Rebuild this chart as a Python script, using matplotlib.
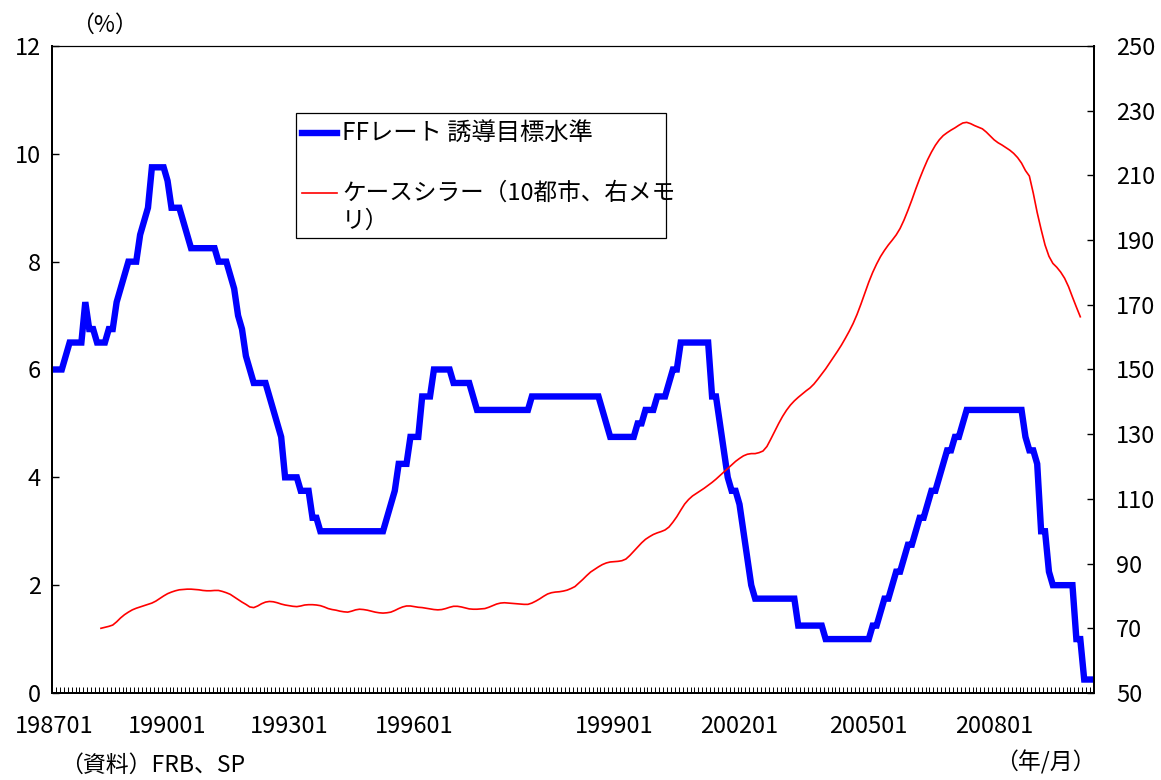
import numpy as np
import matplotlib
matplotlib.use("Agg")
import matplotlib.pyplot as plt
from matplotlib.lines import Line2D
from matplotlib.patches import Rectangle

plt.rcParams['font.family'] = ['Noto Sans CJK JP', 'DejaVu Sans']

# 月次の系列 198701〜200902
months = [f"{y}{m:02d}" for y in range(1987, 2010) for m in range(1, 13)][:266]

# FFレート 誘導目標水準（%、月末値）
ff_rate = [
    6.0, 6.0, 6.0, 6.25, 6.5, 6.5, 6.5, 6.5, 7.25, 6.75, 6.75, 6.5,          # 1987
    6.5, 6.5, 6.75, 6.75, 7.25, 7.5, 7.75, 8.0, 8.0, 8.0, 8.5, 8.75,        # 1988
    9.0, 9.75, 9.75, 9.75, 9.75, 9.5, 9.0, 9.0, 9.0, 8.75, 8.5, 8.25,       # 1989
    8.25, 8.25, 8.25, 8.25, 8.25, 8.25, 8.0, 8.0, 8.0, 7.75, 7.5, 7.0,      # 1990
    6.75, 6.25, 6.0, 5.75, 5.75, 5.75, 5.75, 5.5, 5.25, 5.0, 4.75, 4.0,     # 1991
    4.0, 4.0, 4.0, 3.75, 3.75, 3.75, 3.25, 3.25, 3.0, 3.0, 3.0, 3.0,        # 1992
    3.0, 3.0, 3.0, 3.0, 3.0, 3.0, 3.0, 3.0, 3.0, 3.0, 3.0, 3.0,             # 1993
    3.0, 3.25, 3.5, 3.75, 4.25, 4.25, 4.25, 4.75, 4.75, 4.75, 5.5, 5.5,     # 1994
    5.5, 6.0, 6.0, 6.0, 6.0, 6.0, 5.75, 5.75, 5.75, 5.75, 5.75, 5.5,        # 1995
    5.25, 5.25, 5.25, 5.25, 5.25, 5.25, 5.25, 5.25, 5.25, 5.25, 5.25, 5.25, # 1996
    5.25, 5.25, 5.5, 5.5, 5.5, 5.5, 5.5, 5.5, 5.5, 5.5, 5.5, 5.5,           # 1997
    5.5, 5.5, 5.5, 5.5, 5.5, 5.5, 5.5, 5.5, 5.25, 5.0, 4.75, 4.75,          # 1998
    4.75, 4.75, 4.75, 4.75, 4.75, 5.0, 5.0, 5.25, 5.25, 5.25, 5.5, 5.5,     # 1999
    5.5, 5.75, 6.0, 6.0, 6.5, 6.5, 6.5, 6.5, 6.5, 6.5, 6.5, 6.5,            # 2000
    5.5, 5.5, 5.0, 4.5, 4.0, 3.75, 3.75, 3.5, 3.0, 2.5, 2.0, 1.75,          # 2001
    1.75, 1.75, 1.75, 1.75, 1.75, 1.75, 1.75, 1.75, 1.75, 1.75, 1.25, 1.25, # 2002
    1.25, 1.25, 1.25, 1.25, 1.25, 1.0, 1.0, 1.0, 1.0, 1.0, 1.0, 1.0,        # 2003
    1.0, 1.0, 1.0, 1.0, 1.0, 1.25, 1.25, 1.5, 1.75, 1.75, 2.0, 2.25,        # 2004
    2.25, 2.5, 2.75, 2.75, 3.0, 3.25, 3.25, 3.5, 3.75, 3.75, 4.0, 4.25,     # 2005
    4.5, 4.5, 4.75, 4.75, 5.0, 5.25, 5.25, 5.25, 5.25, 5.25, 5.25, 5.25,    # 2006
    5.25, 5.25, 5.25, 5.25, 5.25, 5.25, 5.25, 5.25, 4.75, 4.5, 4.5, 4.25,   # 2007
    3.0, 3.0, 2.25, 2.0, 2.0, 2.0, 2.0, 2.0, 2.0, 1.0, 1.0, 0.25,           # 2008
    0.25, 0.25,                                                             # 2009
]

# ケースシラー住宅価格指数（10都市）198801〜200811
cs_start = "198801"
case_shiller = [
    70.0, 70.3, 70.6, 71.0, 72.0, 73.2, 74.2, 75.0, 75.7, 76.2, 76.6, 77.0,       # 1988
    77.4, 77.8, 78.4, 79.2, 80.0, 80.7, 81.2, 81.6, 81.9, 82.0, 82.1, 82.1,       # 1989
    82.0, 81.9, 81.7, 81.6, 81.6, 81.7, 81.7, 81.4, 81.0, 80.5, 79.7, 78.9,       # 1990
    78.1, 77.4, 76.6, 76.4, 76.9, 77.6, 78.1, 78.3, 78.2, 77.9, 77.5, 77.2,       # 1991
    77.0, 76.8, 76.7, 76.9, 77.2, 77.3, 77.3, 77.2, 77.0, 76.6, 76.1, 75.8,       # 1992
    75.6, 75.3, 75.1, 75.0, 75.3, 75.7, 75.9, 75.8, 75.6, 75.3, 75.0, 74.8,       # 1993
    74.7, 74.8, 75.0, 75.5, 76.1, 76.6, 76.9, 76.9, 76.7, 76.5, 76.4, 76.2,       # 1994
    76.0, 75.8, 75.7, 75.8, 76.1, 76.5, 76.8, 76.8, 76.6, 76.3, 76.0, 75.9,       # 1995
    75.9, 76.0, 76.1, 76.5, 77.0, 77.5, 77.8, 77.9, 77.8, 77.7, 77.6, 77.5,       # 1996
    77.4, 77.4, 77.8, 78.4, 79.1, 79.9, 80.6, 81.0, 81.2, 81.3, 81.5, 81.8,       # 1997
    82.3, 82.9, 84.0, 85.1, 86.3, 87.4, 88.2, 89.0, 89.7, 90.2, 90.5, 90.6,       # 1998
    90.7, 90.9, 91.4, 92.5, 93.8, 95.1, 96.4, 97.5, 98.3, 99.0, 99.5, 99.9,       # 1999
    100.4, 101.3, 102.8, 104.5, 106.5, 108.4, 109.8, 110.9, 111.7, 112.5, 113.3, 114.2,  # 2000
    115.1, 116.1, 117.2, 118.3, 119.4, 120.5, 121.6, 122.5, 123.3, 123.8, 124.0, 124.0,  # 2001
    124.3, 124.8, 126.2, 128.5, 130.9, 133.3, 135.5, 137.4, 139.0, 140.3, 141.4, 142.4,  # 2002
    143.4, 144.3, 145.5, 147.0, 148.6, 150.2, 152.0, 153.8, 155.6, 157.5, 159.6, 161.8,  # 2003
    164.2, 167.0, 170.2, 173.6, 177.0, 180.0, 182.6, 184.9, 186.8, 188.5, 190.0, 191.6,  # 2004
    193.6, 196.2, 199.2, 202.4, 205.8, 209.0, 212.0, 214.8, 217.2, 219.3, 221.0, 222.3,  # 2005
    223.2, 224.0, 224.7, 225.5, 226.2, 226.4, 226.0, 225.4, 224.9, 224.4, 223.4, 222.2,  # 2006
    221.0, 220.1, 219.4, 218.6, 217.8, 216.8, 215.5, 213.8, 211.5, 209.8, 204.5, 198.5,  # 2007
    193.3, 188.5, 185.0, 182.8, 181.6, 180.1, 178.2, 175.6, 172.4, 169.3, 166.3,         # 2008
]

xtick_labels = ["198701", "199001", "199301", "199601", "199901", "200201", "200501", "200801"]
xtick_pos = [0, 29, 60, 92, 143, 175, 208, 240]

W, H = 1161, 780
fig = plt.figure(figsize=(W / 100, H / 100), dpi=100)


def fx(px):
    return px / W


def fy(py):
    return 1 - py / H


ax = fig.add_axes([fx(52), fy(693), (1094 - 52) / W, (693 - 46) / H])
x = np.arange(len(months))
cs_x = np.arange(months.index(cs_start), months.index(cs_start) + len(case_shiller))

ax.plot(x, ff_rate, color='#0000FF', lw=4.6, solid_joinstyle='miter', zorder=3)
ax.set_xlim(-0.5, len(months) - 0.5)
ax.set_ylim(0, 12)
ax.set_yticks(np.arange(0, 13, 2))
ax.set_xticks(xtick_pos)
ax.set_xticklabels(xtick_labels)
ax.set_xticks(np.arange(-0.5, len(months), 1), minor=True)
ax.tick_params(axis='y', direction='in', length=5, width=1, labelsize=17, pad=8)
ax.tick_params(axis='x', which='major', length=0, labelsize=17, pad=16)
ax.tick_params(axis='x', which='minor', direction='in', length=4.5, width=0.7)

ax2 = ax.twinx()
ax2.plot(cs_x, case_shiller, color='#FF0000', lw=1.2)
ax2.set_ylim(50, 250)
ax2.set_yticks(np.arange(50, 251, 20))
ax2.tick_params(axis='y', direction='in', length=5, width=1, labelsize=17, pad=16)

for a in (ax, ax2):
    for s in ('left', 'right', 'bottom'):
        a.spines[s].set_linewidth(1.4)
    a.spines['top'].set_linewidth(0.8)

# 凡例（枠を手描き）
fig.patches.append(Rectangle((fx(296), fy(238)), (666 - 296) / W, (238 - 113) / H,
                             transform=fig.transFigure, fill=False, ec='black', lw=0.9))
fig.lines.append(Line2D([fx(302), fx(337)], [fy(133), fy(133)], transform=fig.transFigure,
                        color='#0000FF', lw=4.6))
fig.lines.append(Line2D([fx(302), fx(337)], [fy(193), fy(193)], transform=fig.transFigure,
                        color='#FF0000', lw=1.2))
fig.text(fx(342), fy(133), "FFレート 誘導目標水準", fontsize=17.5, va='center')
fig.text(fx(342), fy(193), "ケースシラー（10都市、右メモ", fontsize=17, va='center')
fig.text(fx(342), fy(221), "リ）", fontsize=17, va='center')

fig.text(fx(104), fy(25), "（%）", fontsize=16.5, ha='center', va='center')
fig.text(fx(60), fy(765), "（資料）FRB、SP", fontsize=16.5, ha='left', va='center')
fig.text(fx(1045), fy(762), "（年/月）", fontsize=16.5, ha='center', va='center')

fig.savefig("out.png", dpi=100)
